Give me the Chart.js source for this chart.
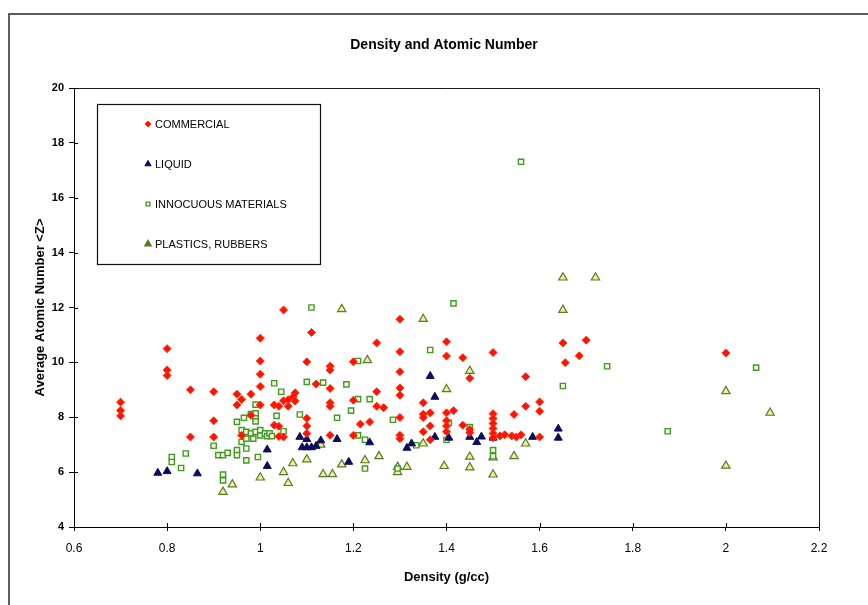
<!DOCTYPE html>
<html lang="en">
<head>
<meta charset="UTF-8">
<title>Density and Atomic Number</title>
<script src="https://cdn.jsdelivr.net/npm/chart.js"></script>
<style>
  html, body { margin: 0; padding: 0; background: #fff; }
</style>
</head>
<body>
<canvas id="chart" width="868" height="605"></canvas>
<script>
// density (g/cc) and average atomic number <Z> per sample group
const commercialDensity = [
  0.70, 0.70, 0.70,
  0.80, 0.80, 0.80,
  0.85, 0.85,
  0.90, 0.90, 0.90,
  0.95, 0.95, 0.96, 0.96, 0.98, 0.98,
  1.00, 1.00, 1.00, 1.00, 1.00,
  1.03, 1.03, 1.04, 1.04, 1.04,
  1.05, 1.05, 1.05, 1.06, 1.06, 1.07, 1.075, 1.075,
  1.10, 1.10, 1.10, 1.10, 1.11, 1.12,
  1.15, 1.15, 1.15, 1.15, 1.15, 1.15,
  1.20, 1.20, 1.20, 1.215, 1.235,
  1.25, 1.25, 1.25, 1.265,
  1.30, 1.30, 1.30, 1.30, 1.30, 1.30, 1.30, 1.30,
  1.35, 1.35, 1.35, 1.35,
  1.365, 1.365, 1.365,
  1.40, 1.40, 1.40, 1.40, 1.40, 1.40,
  1.415, 1.435, 1.435,
  1.45, 1.45, 1.45,
  1.50, 1.50, 1.50, 1.50, 1.50, 1.50, 1.50,
  1.515, 1.525, 1.54, 1.55, 1.56, 1.545,
  1.57, 1.57,
  1.60, 1.60, 1.60,
  1.65, 1.655, 1.685, 1.70, 2.00
];
const commercialZ = [
  8.55, 8.25, 8.05,
  10.5, 9.72, 9.52,
  9.0, 7.28,
  8.93, 7.87, 7.28,
  8.84, 8.45, 7.34, 8.65, 8.84, 8.07,
  10.88, 10.05, 9.57, 9.12, 8.45,
  8.45, 7.71, 7.67, 7.30, 8.40,
  11.91, 8.60, 7.28, 8.64, 8.40, 8.74, 8.89, 8.59,
  10.02, 7.96, 7.68, 7.41, 11.09, 9.21,
  9.86, 9.72, 9.05, 8.53, 8.40, 7.34,
  10.02, 8.62, 7.34, 7.75, 7.83,
  10.71, 8.93, 8.40, 8.35,
  11.57, 10.39, 9.66, 9.07, 8.80, 7.99, 7.34, 7.22,
  8.53, 8.11, 7.99, 7.47,
  8.16, 7.68, 7.18,
  10.75, 10.23, 8.16, 7.87, 7.68, 7.47,
  8.24, 10.17, 7.71,
  9.42, 7.55, 7.44,
  10.36, 8.13, 7.95, 7.77, 7.59, 7.41, 7.25,
  7.32, 7.36, 7.32, 7.28, 7.36, 8.10,
  9.48, 8.40,
  8.56, 8.22, 7.28,
  10.71, 9.99, 10.24, 10.81, 10.34
];

const liquidDensity = [
  0.78, 0.80, 0.865, 1.015, 1.015, 1.085, 1.09, 1.10, 1.10, 1.11,
  1.12, 1.13, 1.165, 1.19, 1.235, 1.315, 1.325, 1.365, 1.375, 1.375,
  1.405, 1.45, 1.465, 1.475, 1.50, 1.585, 1.64, 1.64
];
const liquidZ = [
  5.97, 6.03, 5.95, 6.82, 6.22, 7.28, 6.90, 7.20, 6.90, 6.90,
  6.95, 7.15, 7.20, 6.37, 7.08, 6.88, 7.04, 9.50, 8.74, 7.28,
  7.25, 7.28, 7.09, 7.29, 7.25, 7.28, 7.58, 7.25
];

const innocuousDensity = [
  0.81, 0.81, 0.83, 0.84, 0.90, 0.91, 0.92, 0.92, 0.92, 0.93,
  0.95, 0.95, 0.95, 0.96, 0.96, 0.965, 0.97, 0.97, 0.97, 0.97,
  0.98, 0.98, 0.985, 0.99, 0.99, 0.99, 0.99, 0.99, 0.995, 1.00,
  1.00, 1.01, 1.015, 1.02, 1.025, 1.03, 1.035, 1.045, 1.05, 1.085,
  1.10, 1.11, 1.135, 1.165, 1.185, 1.195, 1.21, 1.21, 1.21, 1.225,
  1.225, 1.235, 1.285, 1.295, 1.335, 1.365, 1.40, 1.405, 1.415, 1.45,
  1.50, 1.50, 1.56, 1.65, 1.745, 1.875, 2.065
];
const innocuousZ = [
  6.55, 6.37, 6.15, 6.68, 6.96, 6.62, 6.62, 5.91, 5.70, 6.70,
  6.80, 6.62, 7.83, 7.53, 7.10, 7.98, 7.47, 6.86, 6.43, 7.22,
  7.41, 8.12, 7.22, 8.46, 8.14, 7.96, 7.85, 7.47, 6.55, 7.34,
  7.53, 7.41, 7.31, 7.41, 7.31, 9.24, 8.05, 8.93, 7.49, 8.10,
  9.29, 12.0, 9.26, 7.98, 9.20, 8.24, 10.05, 8.66, 7.34, 7.18,
  6.13, 8.66, 7.91, 6.13, 6.98, 10.45, 7.18, 7.80, 12.15, 7.64,
  6.80, 6.58, 17.31, 9.14, 9.86, 7.49, 9.81
];

const plasticsDensity = [
  0.92, 0.94, 1.00, 1.05, 1.06, 1.07, 1.10, 1.13, 1.135, 1.155,
  1.175, 1.175, 1.225, 1.23, 1.255, 1.295, 1.295, 1.315, 1.35, 1.35,
  1.395, 1.40, 1.45, 1.45, 1.45, 1.50, 1.50, 1.545, 1.57, 1.65,
  1.65, 1.72, 2.00, 2.00, 2.095
];
const plasticsZ = [
  5.28, 5.55, 5.80, 6.00, 5.60, 6.32, 6.46, 7.00, 5.92, 5.92,
  11.94, 6.28, 6.43, 10.08, 6.58, 6.19, 6.00, 6.19, 11.58, 7.04,
  6.22, 9.02, 9.69, 6.56, 6.17, 6.53, 5.91, 6.58, 7.04, 13.09,
  11.91, 13.09, 8.95, 6.23, 8.16
];

const xTicks = [0.6, 0.8, 1, 1.2, 1.4, 1.6, 1.8, 2, 2.2];
const yTicks = [4, 6, 8, 10, 12, 14, 16, 18, 20];

const pairs = (xs, ys) => xs.map((x, i) => ({ x: x, y: ys[i] }));

const datasets = [
  {
    label: 'COMMERCIAL',
    data: pairs(commercialDensity, commercialZ),
    pointStyle: 'rectRot', pointRadius: 4,
    backgroundColor: '#ff1010', borderColor: '#ff3800', borderWidth: 1
  },
  {
    label: 'LIQUID',
    data: pairs(liquidDensity, liquidZ),
    pointStyle: 'triangle', pointRadius: 4.6,
    backgroundColor: '#0c0c5c', borderColor: '#0c0c5c', borderWidth: 1
  },
  {
    label: 'INNOCUOUS MATERIALS',
    data: pairs(innocuousDensity, innocuousZ),
    pointStyle: 'rect', pointRadius: 3.7,
    backgroundColor: '#fbfbe0', borderColor: '#3f9a2a', borderWidth: 1.4
  },
  {
    label: 'PLASTICS, RUBBERS',
    data: pairs(plasticsDensity, plasticsZ),
    pointStyle: 'triangle', pointRadius: 4.8,
    backgroundColor: '#eef09a', borderColor: '#587a2c', borderWidth: 1.2,
    legendFill: '#4f7a2a'
  }
];

// frame, title, plot box, inner tick halves and the boxed legend
const decor = {
  id: 'decor',
  beforeDraw(chart) {
    const ctx = chart.ctx;
    ctx.save();
    ctx.fillStyle = '#fff';
    ctx.fillRect(0, 0, chart.width, chart.height);
    ctx.restore();
  },
  afterDraw(chart) {
    const { ctx, chartArea: a, scales } = chart;
    ctx.save();

    ctx.strokeStyle = '#2a2a2a';
    ctx.lineWidth = 1.5;
    ctx.beginPath();
    ctx.moveTo(9, chart.height);
    ctx.lineTo(9, 14);
    ctx.lineTo(chart.width, 14);
    ctx.stroke();

    ctx.fillStyle = '#000';
    ctx.font = 'bold 14px Arial, "Liberation Sans", sans-serif';
    ctx.textAlign = 'center';
    ctx.textBaseline = 'middle';
    ctx.fillText('Density and Atomic Number', 444, 45);

    ctx.strokeStyle = '#1a1a1a';
    ctx.lineWidth = 1;
    ctx.beginPath();
    ctx.moveTo(a.left, a.top + 0.5);
    ctx.lineTo(a.right + 0.5, a.top + 0.5);
    ctx.lineTo(a.right + 0.5, a.bottom);
    ctx.stroke();

    ctx.strokeStyle = '#000';
    ctx.beginPath();
    xTicks.forEach(v => {
      const px = Math.round(scales.x.getPixelForValue(v)) + 0.5;
      ctx.moveTo(px, a.bottom);
      ctx.lineTo(px, a.bottom - 4);
    });
    yTicks.forEach(v => {
      const py = Math.round(scales.y.getPixelForValue(v)) + 0.5;
      ctx.moveTo(a.left, py);
      ctx.lineTo(a.left + 4, py);
    });
    ctx.stroke();

    // legend box
    ctx.fillStyle = '#fff';
    ctx.fillRect(97.5, 104.5, 223, 160);
    ctx.strokeStyle = '#111';
    ctx.lineWidth = 1.2;
    ctx.strokeRect(97.5, 104.5, 223, 160);
    ctx.font = '11px Arial, "Liberation Sans", sans-serif';
    ctx.textAlign = 'left';
    ctx.textBaseline = 'middle';
    chart.data.datasets.forEach((ds, i) => {
      const y = 124 + i * 40;
      ctx.fillStyle = ds.legendFill || ds.backgroundColor;
      ctx.strokeStyle = ds.borderColor;
      ctx.lineWidth = ds.borderWidth;
      Chart.helpers.drawPoint(ctx, {
        pointStyle: ds.pointStyle,
        radius: ds.pointRadius - 1,
        rotation: 0,
        borderWidth: ds.borderWidth
      }, 148, y);
      ctx.fillStyle = '#000';
      ctx.fillText(ds.label, 155, y + 0.5);
    });

    ctx.restore();
  }
};

new Chart(document.getElementById('chart'), {
  type: 'scatter',
  data: { datasets: datasets },
  plugins: [decor],
  options: {
    responsive: false,
    animation: false,
    devicePixelRatio: 1,
    layout: { padding: { top: 88, right: 49, bottom: 0, left: 0 } },
    plugins: {
      legend: { display: false },
      title: { display: false },
      tooltip: { enabled: false }
    },
    scales: {
      x: {
        type: 'linear',
        min: 0.6,
        max: 2.2,
        afterFit: s => { s.height = 78; },
        afterBuildTicks: s => { s.ticks = xTicks.map(v => ({ value: v })); },
        ticks: {
          color: '#000',
          padding: 10,
          font: { family: 'Arial, "Liberation Sans", sans-serif', size: 12 },
          callback: v => String(Math.round(v * 10) / 10)
        },
        grid: { drawOnChartArea: false, drawTicks: true, tickLength: 4, color: '#000' },
        border: { display: true, color: '#000', width: 1 },
        title: {
          display: true,
          text: 'Density (g/cc)',
          color: '#000',
          font: { family: 'Arial, "Liberation Sans", sans-serif', size: 13, weight: 'bold' },
          padding: { top: 0, bottom: 20 }
        }
      },
      y: {
        type: 'linear',
        min: 4,
        max: 20,
        afterFit: s => { s.width = 74; },
        afterBuildTicks: s => { s.ticks = yTicks.map(v => ({ value: v })); },
        ticks: {
          color: '#000',
          padding: 5,
          font: { family: 'Arial, "Liberation Sans", sans-serif', size: 11, weight: 'bold' }
        },
        grid: { drawOnChartArea: false, drawTicks: true, tickLength: 5, color: '#000' },
        border: { display: true, color: '#000', width: 1 },
        title: {
          display: true,
          text: 'Average Atomic Number <Z>',
          color: '#000',
          font: { family: 'Arial, "Liberation Sans", sans-serif', size: 13, weight: 'bold' },
          padding: { top: 33, bottom: 0 }
        }
      }
    }
  }
});
</script>
</body>
</html>
